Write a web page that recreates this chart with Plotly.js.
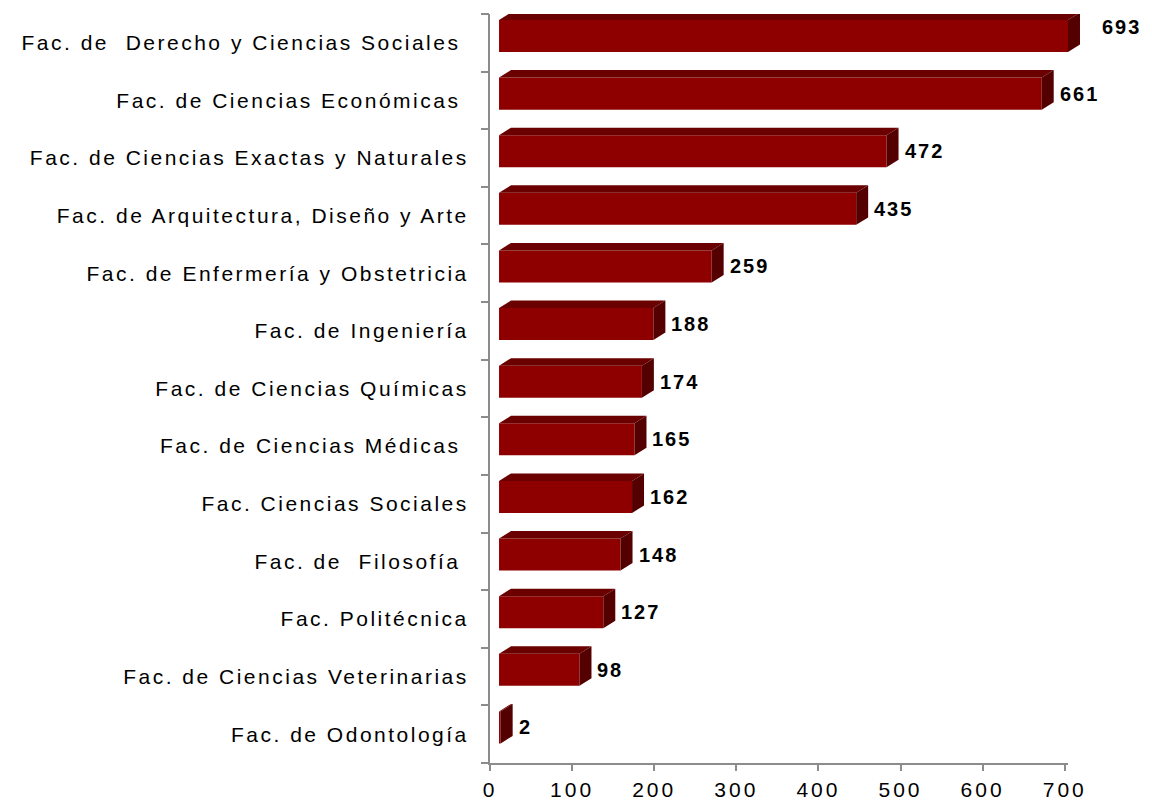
<!DOCTYPE html>
<html>
<head>
<meta charset="utf-8">
<script src="https://cdn.plot.ly/plotly-3.0.1.min.js"></script>
<style>
  html, body { margin: 0; padding: 0; background: #fff; }
  #chart { width: 1152px; height: 803px; }
  .yaxislayer-above .ytick text { letter-spacing: 2.5px; }
  .xaxislayer-above .xtick text { letter-spacing: 3px; }
  .annotation-text { letter-spacing: 2px; }
</style>
</head>
<body>
<div id="chart"></div>
<script>
// ---- data ----
const categories = [
  "Fac. de\u00a0\u00a0Derecho y Ciencias Sociales\u00a0",
  "Fac. de Ciencias Económicas\u00a0",
  "Fac. de Ciencias Exactas y Naturales",
  "Fac. de Arquitectura, Diseño y Arte",
  "Fac. de Enfermería y Obstetricia",
  "Fac. de Ingeniería",
  "Fac. de Ciencias Químicas",
  "Fac. de Ciencias Médicas\u00a0",
  "Fac. Ciencias Sociales",
  "Fac. de\u00a0\u00a0Filosofía\u00a0",
  "Fac. Politécnica",
  "Fac. de Ciencias Veterinarias",
  "Fac. de Odontología"
];
const values = [693, 661, 472, 435, 259, 188, 174, 165, 162, 148, 127, 98, 2];
const xTickVals = [0, 100, 200, 300, 400, 500, 600, 700];

// ---- styling / geometry (3D look) ----
const FRONT = '#8E0000', TOP = '#6A0000', SIDE = '#550000';
const L = 490, R = 40, AXIS_PX = 578;    // layout: left margin, right margin, visible axis length
const FULL_PX = 1152 - L - R;
const AXIS_MAX = 704, SHIFT = 11;        // bars' front face starts slightly right of axis
const PXU = AXIS_PX / AXIS_MAX;
const DX = 14.6, DY = 0.13;              // extrusion depth in data units
const OFF = -0.396, W = 0.556;           // front face band within category slot

const idx = categories.map((_, i) => i);

// top and side faces built from the values
const topX = [], topY = [], sideX = [], sideY = [];
values.forEach((v, i) => {
  const y0 = i + OFF, y1 = i + OFF + W;
  topX.push(0, v, v + DX, DX, 0, null);
  topY.push(y0, y0, y0 - DY, y0 - DY, y0, null);
  sideX.push(v, v + DX, v + DX, v, v, null);
  sideY.push(y0, y0 - DY, y1 - DY, y1, y0, null);
});

const traces = [
  {
    type: 'bar', orientation: 'h', x: values, y: idx,
    offset: OFF, width: W, base: 0,
    xaxis: 'x2', yaxis: 'y',
    marker: { color: FRONT, line: { width: 0 } },
    hoverinfo: 'x', showlegend: false
  },
  {
    type: 'scatter', mode: 'lines', x: topX, y: topY, fill: 'toself',
    fillcolor: TOP, line: { width: 0, color: TOP },
    xaxis: 'x2', yaxis: 'y', hoverinfo: 'skip', showlegend: false
  },
  {
    type: 'scatter', mode: 'lines', x: sideX, y: sideY, fill: 'toself',
    fillcolor: SIDE, line: { width: 0, color: SIDE },
    xaxis: 'x2', yaxis: 'y', hoverinfo: 'skip', showlegend: false
  },
  { // invisible trace to anchor the boundary-tick axis
    type: 'scatter', mode: 'markers', x: [0], y: [0], xaxis: 'x', yaxis: 'y2',
    marker: { opacity: 0 }, hoverinfo: 'skip', showlegend: false
  }
];

const maxV = Math.max(...values);
const annotations = values.map((v, i) => ({
  x: v + DX, y: i + OFF + W / 2, xref: 'x2', yref: 'y',
  text: String(v), showarrow: false, xanchor: 'left', yanchor: 'middle',
  xshift: v === maxV ? 20 : 4, yshift: v === maxV ? 9 : 0,
  font: { family: 'Liberation Sans, Arial, sans-serif', size: 20, color: '#000', weight: 'bold' }
}));

const gray = '#8c8c8c';
const bounds = categories.map((_, i) => i - 0.5).concat([categories.length - 0.5]);

const layout = {
  width: 1152, height: 803,
  margin: { l: L, r: R, t: 14, b: 40 },
  paper_bgcolor: '#fff', plot_bgcolor: '#fff',
  showlegend: false,
  font: { family: 'Liberation Sans, Arial, sans-serif', size: 21, color: '#000' },
  xaxis: {
    domain: [0, AXIS_PX / FULL_PX], anchor: 'y',
    range: [0, AXIS_MAX], tickmode: 'array', tickvals: xTickVals,
    showgrid: false, zeroline: false, showline: true, linecolor: gray, linewidth: 2,
    ticks: 'outside', ticklen: 6, tickwidth: 2, tickcolor: gray,
    tickfont: { size: 21, color: '#000' }, ticklabelstandoff: 1, fixedrange: true
  },
  xaxis2: {
    domain: [0, 1], anchor: 'y',
    range: [-SHIFT, -SHIFT + FULL_PX / PXU], visible: false, fixedrange: true
  },
  yaxis: {
    anchor: 'x',
    range: [categories.length - 0.5, -0.5], tickmode: 'array', tickvals: idx, ticktext: categories,
    showgrid: false, zeroline: false, showline: true, linecolor: gray, linewidth: 2,
    ticks: '', tickfont: { size: 21, color: '#000' }, ticklabelstandoff: 15, fixedrange: true
  },
  yaxis2: {
    overlaying: 'y', anchor: 'x', side: 'left', range: [categories.length - 0.5, -0.5],
    tickmode: 'array', tickvals: bounds, showticklabels: false,
    ticks: 'outside', ticklen: 8, tickwidth: 2, tickcolor: gray,
    showgrid: false, zeroline: false, showline: false, fixedrange: true
  },
  annotations: annotations
};

Plotly.newPlot('chart', traces, layout, { displayModeBar: false, staticPlot: true });
</script>
</body>
</html>
